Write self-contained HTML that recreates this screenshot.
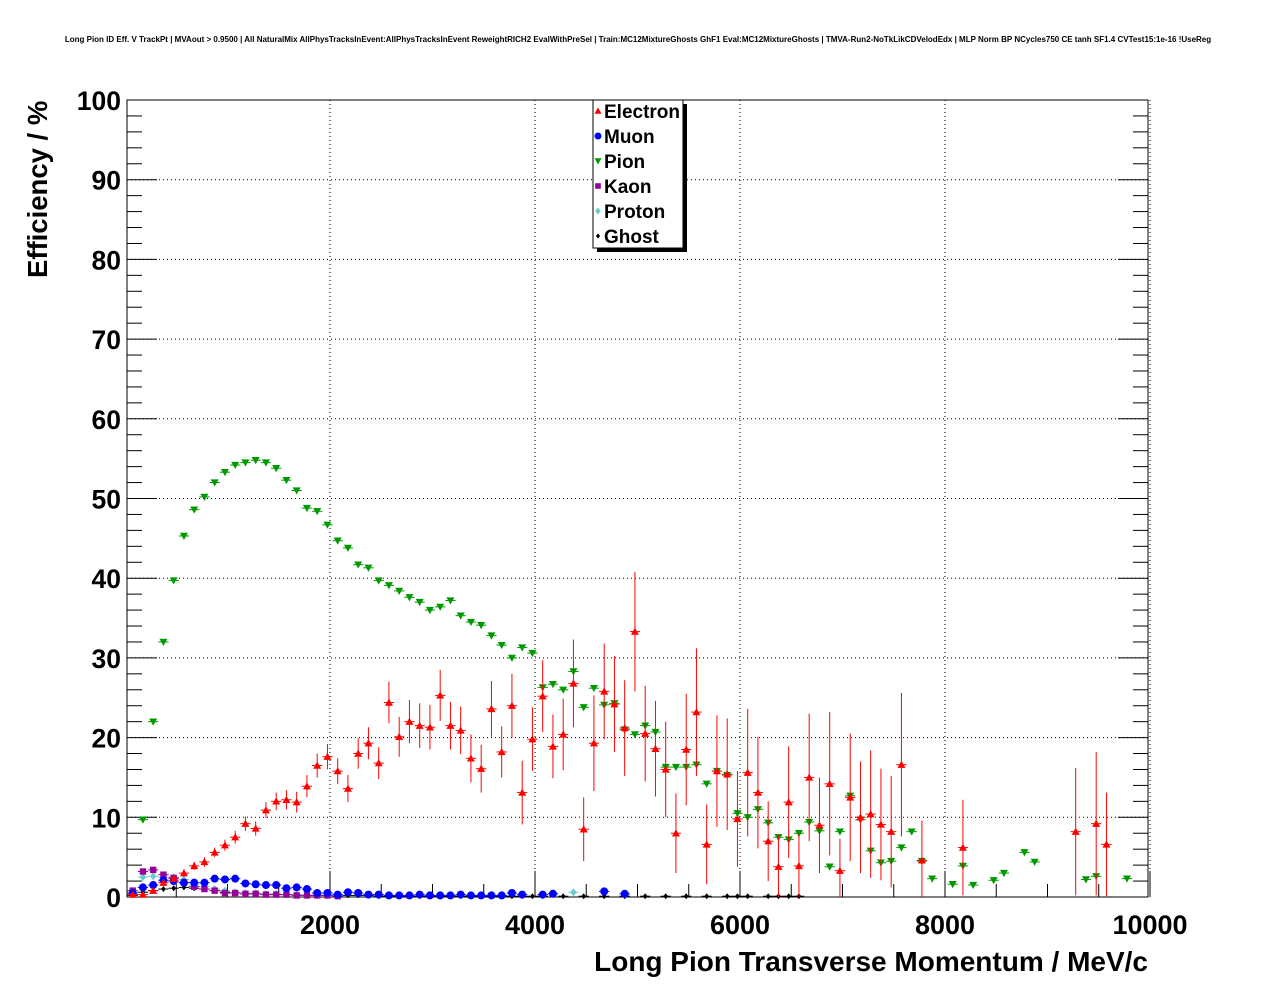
<!DOCTYPE html>
<html><head><meta charset="utf-8">
<style>
body{margin:0;background:#fff;}
svg{display:block;font-family:"Liberation Sans",sans-serif;}
</style></head>
<body>
<svg id="chart" width="1276" height="996" xmlns="http://www.w3.org/2000/svg">
<rect width="1276" height="996" fill="#fff"/>
<text x="638" y="42" font-size="8" font-weight="bold" text-anchor="middle">Long Pion ID Eff. V TrackPt | MVAout &gt; 0.9500 | All NaturalMix AllPhysTracksInEvent:AllPhysTracksInEvent ReweightRICH2 EvalWithPreSel | Train:MC12MixtureGhosts GhF1 Eval:MC12MixtureGhosts | TMVA-Run2-NoTkLikCDVelodEdx | MLP Norm BP NCycles750 CE tanh SF1.4 CVTest15:1e-16 !UseReg</text>
<g id="grid"></g>
<g id="axes"></g>
<g id="marks"></g>
<text transform="translate(47,278) rotate(-90)" font-size="27.5" font-weight="bold">Efficiency / %</text>
<text x="1148" y="971" font-size="28" font-weight="bold" text-anchor="end">Long Pion Transverse Momentum / MeV/c</text>
<g>
<rect x="597" y="104" width="90" height="148" fill="#000"/>
<rect x="593" y="100" width="90" height="148" fill="#fff" stroke="#000" stroke-width="1"/>
<g id="legend-items"></g>
</g>
</svg>
<script>
// bin indices (bin centre = 75 + 100*k MeV) and values in %
const electronBins=[0,1,2,3,4,5,6,7,8,9,10,11,12,13,14,15,16,17,18,19,20,21,22,23,24,25,26,27,28,29,30,31,32,33,34,35,36,37,38,39,40,41,42,43,44,45,46,47,48,49,50,51,52,53,54,55,56,57,58,59,60,61,62,63,64,65,66,67,68,69,70,71,72,73,74,75,77,81,92,94,95];
const electronVals=[0.3,0.3,0.8,1.8,2.3,3,3.9,4.4,5.6,6.5,7.5,9.2,8.6,10.9,12,12.2,11.9,13.9,16.5,17.6,15.8,13.6,18,19.3,16.8,24.4,20.1,22,21.5,21.3,25.3,21.5,20.9,17.4,16.1,23.6,18.2,24,13.1,19.8,25.2,18.9,20.4,26.8,8.5,19.3,25.8,24.2,21.2,33.3,20.5,18.6,16,8,18.5,23.2,6.6,15.8,15.4,9.8,15.6,13.1,7,3.8,11.9,3.9,15,9,14.2,3.3,12.5,10,10.4,9.1,8.2,16.6,4.6,6.2,8.2,9.2,6.6];
const electronErr=[0.2,0.2,0.3,0.4,0.4,0.5,0.5,0.6,0.6,0.7,0.8,0.9,0.9,1,1.1,1.2,1.3,1.4,1.5,1.6,1.6,1.7,1.9,2,2,2.6,2.5,2.7,2.8,2.8,3.2,3,3,3,3,3.5,3.2,4,4,4,4.5,4,4.5,5.5,4,6,6,6,6,7.5,6,6,6,5,7,8,5,7,7,6,8,7,5,4,7,4,8,6,9,4,8,7,8,7,7,9,5,6,8,9,6.5];
const pionBins=[0,1,2,3,4,5,6,7,8,9,10,11,12,13,14,15,16,17,18,19,20,21,22,23,24,25,26,27,28,29,30,31,32,33,34,35,36,37,38,39,40,41,42,43,44,45,46,47,48,49,50,51,52,53,54,55,56,57,58,59,60,61,62,63,64,65,66,67,68,69,70,71,72,73,74,75,76,77,78,80,81,82,84,85,87,88,93,94,97];
const pionVals=[0.5,9.7,22,32,39.7,45.3,48.6,50.2,52,53.3,54.2,54.5,54.8,54.5,53.8,52.3,51,48.8,48.4,46.7,44.7,43.8,41.7,41.3,39.7,39.1,38.4,37.6,37,36,36.4,37.2,35.3,34.5,34.1,32.8,31.6,30,31.3,30.6,26.3,26.7,26,28.3,23.8,26.2,24.1,24.3,21,20.4,21.5,20.7,16.3,16.3,16.3,16.6,14.2,15.8,15.3,10.5,10,11,9.3,7.5,7.2,8,9.4,8.3,3.8,8.2,12.7,9.7,5.8,4.3,4.5,6.2,8.2,4.5,2.3,1.6,3.9,1.5,2.1,3,5.6,4.4,2.2,2.6,2.3];
const muonBins=[0,1,2,3,4,5,6,7,8,9,10,11,12,13,14,15,16,17,18,19,20,21,22,23,24,25,26,27,28,29,30,31,32,33,34,35,36,37,38,40,41,46,48];
const muonVals=[0.5,1.2,1.5,2.1,2.0,1.8,1.8,1.8,2.3,2.2,2.3,1.7,1.6,1.5,1.5,1.1,1.2,1.0,0.5,0.5,0.3,0.6,0.5,0.3,0.3,0.2,0.2,0.2,0.3,0.2,0.2,0.2,0.3,0.2,0.2,0.2,0.2,0.5,0.3,0.3,0.4,0.7,0.4];
const kaonBins=[0,1,2,3,4,5,6,7,8,9,10,11,12,13,14,15,16,17,18,19,20];
const kaonVals=[0.8,3.2,3.4,2.8,2.4,1.8,1.3,1.0,0.8,0.5,0.5,0.4,0.4,0.3,0.3,0.3,0.2,0.2,0.2,0.2,0.1];
const protonBins=[0,1,2,3,4,5,6,7,8,9,10,11,12,13,14,15,16,17,18,19,20,43];
const protonVals=[0.3,2.5,2.6,2.5,2.5,2.2,1.5,1.3,1.0,0.8,0.6,0.5,0.5,0.4,0.4,0.3,0.3,0.2,0.2,0.2,0.2,0.6];
const ghostBins=[0,1,2,3,4,5,6,7,8,9,10,11,12,13,14,15,16,17,18,19,20,21,22,23,24,25,26,27,28,29,30,31,32,33,34,35,36,37,38,39,40,42,44,46,48,50,52,54,56,58,59,60,62,63,64,65];
const ghostVals=[0.2,0.6,0.8,1.0,1.1,1.2,1.1,1.0,0.8,0.6,0.5,0.4,0.4,0.3,0.3,0.3,0.3,0.2,0.2,0.2,0.2,0.2,0.2,0.2,0.1,0.1,0.1,0.1,0.1,0.1,0.1,0.1,0.1,0.1,0.1,0.1,0.1,0.1,0.1,0.1,0.1,0.1,0.1,0.1,0.1,0.1,0.1,0.1,0.1,0.1,0.1,0.1,0.1,0.1,0.1,0.1];
const xTicks=[2000,4000,6000,8000,10000];
const yTicks=[0,10,20,30,40,50,60,70,80,90,100];

const NS="http://www.w3.org/2000/svg";
const X0=127,X1=1148,Y0=897,Y1=100;
function xs(v){return 125+v*0.1025;}
function ys(v){return Y0-(v/100)*(Y0-Y1);}
function binX(k){return 75+100*k;}
function mk(tag,attrs,parent){const e=document.createElementNS(NS,tag);for(const a in attrs)e.setAttribute(a,attrs[a]);parent.appendChild(e);return e;}
const grid=document.getElementById('grid'),axes=document.getElementById('axes'),marks=document.getElementById('marks');

for(const t of xTicks){
  const g=mk('line',{x1:xs(t),x2:xs(t),y1:Y0,y2:Y1,stroke:'#000','stroke-width':1,'stroke-dasharray':'1,3'},grid);
  
  
  mk('line',{x1:xs(t),x2:xs(t),y1:Y0,y2:Y0-26,stroke:'#000'},axes);
  const tx=mk('text',{x:xs(t),y:Y0+37,'font-size':27,'font-weight':'bold','text-anchor':'middle'},axes);
  tx.textContent=t;
  
  
}
for(let v=500;v<10000;v+=500){mk('line',{x1:xs(v),x2:xs(v),y1:Y0,y2:Y0-13,stroke:'#000'},axes);}
for(const t of yTicks){
  if(t>0&&t<100){
    const g=mk('line',{x1:X0,x2:X1,y1:ys(t),y2:ys(t),stroke:'#000','stroke-width':1,'stroke-dasharray':'1,3'},grid);
    
    
  }
  mk('line',{x1:X0,x2:X0+30,y1:ys(t),y2:ys(t),stroke:'#000'},axes);
  mk('line',{x1:X1,x2:X1-30,y1:ys(t),y2:ys(t),stroke:'#000'},axes);
  const tx=mk('text',{x:X0-6,y:ys(t)+10,'font-size':26.5,'font-weight':'bold','text-anchor':'end'},axes);
  tx.textContent=t;
  
  
}
for(let v=2;v<100;v+=2){if(v%10){mk('line',{x1:X0,x2:X0+15,y1:ys(v),y2:ys(v),stroke:'#000'},axes);mk('line',{x1:X1,x2:X1-15,y1:ys(v),y2:ys(v),stroke:'#000'},axes);}}
const frame=mk('rect',{x:X0,y:Y1,width:X1-X0,height:Y0-Y1,fill:'none',stroke:'#000'},axes);



function marker(type,cx,cy,col,parent,s){
  s=s||4;
  if(type==='tri-up')return mk('polygon',{points:`${cx},${cy-s} ${cx-s},${cy+s*0.8} ${cx+s},${cy+s*0.8}`,fill:col},parent);
  if(type==='tri-down')return mk('polygon',{points:`${cx},${cy+s} ${cx-s},${cy-s*0.8} ${cx+s},${cy-s*0.8}`,fill:col},parent);
  if(type==='circle')return mk('circle',{cx:cx,cy:cy,r:s,fill:col},parent);
  if(type==='square')return mk('rect',{x:cx-s*0.8,y:cy-s*0.8,width:s*1.6,height:s*1.6,fill:col},parent);
  if(type==='diamond')return mk('polygon',{points:`${cx},${cy-s} ${cx+s*0.8},${cy} ${cx},${cy+s} ${cx-s*0.8},${cy}`,fill:col},parent);
  return mk('polygon',{points:`${cx},${cy-s*0.75} ${cx+s*0.6},${cy} ${cx},${cy+s*0.75} ${cx-s*0.6},${cy}`,fill:col},parent);
}
function series(name,bins,vals,errs,col,type){
  const g=mk('g',{},marks);
  
  
  bins.forEach((k,i)=>{
    const v=vals[i],x=binX(k),cx=xs(x),cy=ys(v);
    const e=errs?errs[i]:Math.min(0.3,v);
    mk('line',{x1:xs(x-50),x2:xs(x+50),y1:cy,y2:cy,stroke:col,'stroke-width':1},g);
    mk('line',{x1:cx,x2:cx,y1:ys(Math.max(0,v-e)),y2:ys(v+e),stroke:col,'stroke-width':1},g);
    const m=marker(type,cx,cy,col,g);
    
    
  });
}
series('ghost',ghostBins,ghostVals,null,'#000','small-diamond');
series('proton',protonBins,protonVals,null,'#66cccc','diamond');
series('kaon',kaonBins,kaonVals,null,'#990099','square');
series('pion',pionBins,pionVals,null,'#009900','tri-down');
series('muon',muonBins,muonVals,null,'#0000ff','circle');
series('electron',electronBins,electronVals,electronErr,'#ff0000','tri-up');

const legendNames=['Electron','Muon','Pion','Kaon','Proton','Ghost'];
const legendCols=['#ff0000','#0000ff','#009900','#990099','#66cccc','#000'];
const legendTypes=['tri-up','circle','tri-down','square','diamond','small-diamond'];
const li=document.getElementById('legend-items');
legendNames.forEach((n,i)=>{
  const y=111+i*25;
  const g=mk('g',{},li);
  
  
  marker(legendTypes[i],598,y,legendCols[i],g,3.5);
  const t=mk('text',{x:604,y:y+7,'font-size':19,'font-weight':'bold'},g);
  t.textContent=n;
});
</script>
</body></html>
